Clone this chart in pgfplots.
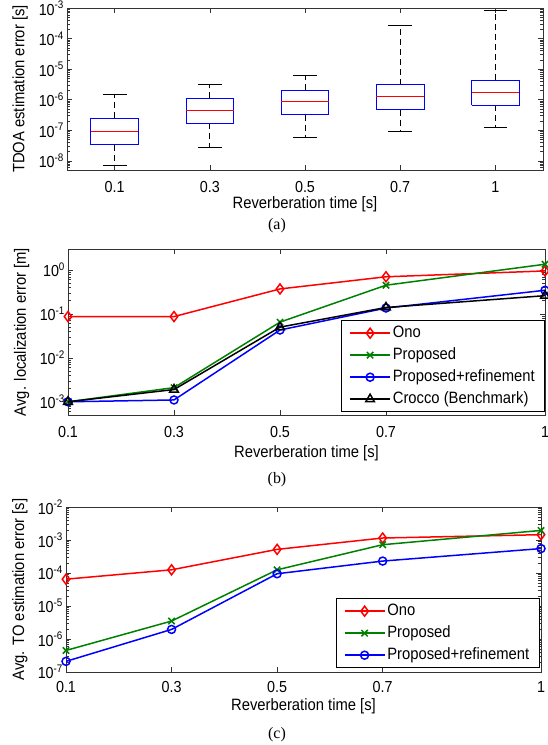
\documentclass[border=0pt]{standalone}
\usepackage{fontspec}
\setmainfont{Liberation Sans}[FakeStretch=0.9]
\newfontfamily\capfont{Liberation Serif}
\usepackage{pgfplots}
\pgfplotsset{compat=1.18}
\definecolor{mgreen}{rgb}{0,0.5,0}
\pgfplotsset{
  mycommon/.style={
    scale only axis,
    anchor=north west,
    tick align=inside,
    xtick pos=both, ytick pos=both,
    axis line style={black!80, line width=0.6bp},
    every tick/.style={black!80, line width=0.5bp},
    major tick length=5bp, minor tick length=3bp,
    tick label style={font=\fontsize{16}{18}\selectfont},
    label style={font=\fontsize{16.5}{19}\selectfont},
    yticklabel={10\raisebox{6.5bp}{\fontsize{11}{12}\selectfont\pgfmathprintnumber[assume math mode=true,fixed,precision=0]{\tick}}},
    xticklabel style={anchor=base},
    clip mode=individual,
    legend cell align=left,
    legend style={font=\fontsize{16.5}{19}\selectfont, draw=black, line width=0.6bp,
      inner xsep=8bp, inner ysep=1.5bp,
      nodes={text height=11.5bp, text depth=3bp, inner ysep=3.75bp}},
  },
  lineplot/.style={line width=1.5bp, mark options={solid, line width=1.5bp}},
}
\begin{document}
\begin{tikzpicture}[x=1bp,y=1bp]
\path[use as bounding box] (0,0) rectangle (548,-745);
\coordinate (PA) at (67,-8);
\coordinate (PB) at (68,-249);
\coordinate (PC) at (66,-507);
% ---------------- (a)
\begin{axis}[mycommon, ymode=log, log basis y=10, at={(PA)}, width=476bp, height=162bp,
  xmin=0.5, xmax=5.5, ymin=5e-9, ymax=1e-3,
  xtick={1,2,3,4,5}, xticklabels={0.1,0.3,0.5,0.7,1},
  every x tick label/.append style={yshift=-22.7bp},
  xlabel={Reverberation time [s]},
  xlabel style={at={(axis description cs:0.5,0)}, anchor=base, yshift=-38.5bp},
  ylabel={TDOA estimation error [s]},
  ylabel style={at={(axis description cs:-0.0987,0.5)}, anchor=center},
]
% box 1 (0.1)
\addplot[black, line width=0.8bp, dash pattern=on 6bp off 4bp] coordinates {(1,2.5e-7) (1,1.5e-6)};
\addplot[black, line width=0.8bp, dash pattern=on 6bp off 4bp] coordinates {(1,3.4e-8) (1,6.9e-9)};
\addplot[black, line width=0.8bp] coordinates {(0.875,1.5e-6) (1.125,1.5e-6)};
\addplot[black, line width=0.8bp] coordinates {(0.875,6.9e-9) (1.125,6.9e-9)};
\addplot[blue, line width=1bp] coordinates {(0.75,3.4e-8) (1.25,3.4e-8) (1.25,2.5e-7) (0.75,2.5e-7) (0.75,3.4e-8)};
\addplot[red, line width=0.8bp] coordinates {(0.75,8.9e-8) (1.25,8.9e-8)};
% box 2 (0.3)
\addplot[black, line width=0.8bp, dash pattern=on 6bp off 4bp] coordinates {(2,1.1e-6) (2,3.2e-6)};
\addplot[black, line width=0.8bp, dash pattern=on 6bp off 4bp] coordinates {(2,1.7e-7) (2,2.8e-8)};
\addplot[black, line width=0.8bp] coordinates {(1.875,3.2e-6) (2.125,3.2e-6)};
\addplot[black, line width=0.8bp] coordinates {(1.875,2.8e-8) (2.125,2.8e-8)};
\addplot[blue, line width=1bp] coordinates {(1.75,1.7e-7) (2.25,1.7e-7) (2.25,1.1e-6) (1.75,1.1e-6) (1.75,1.7e-7)};
\addplot[red, line width=0.8bp] coordinates {(1.75,4.5e-7) (2.25,4.5e-7)};
% box 3 (0.5)
\addplot[black, line width=0.8bp, dash pattern=on 6bp off 4bp] coordinates {(3,2.07e-6) (3,6.2e-6)};
\addplot[black, line width=0.8bp, dash pattern=on 6bp off 4bp] coordinates {(3,3.2e-7) (3,5.9e-8)};
\addplot[black, line width=0.8bp] coordinates {(2.875,6.2e-6) (3.125,6.2e-6)};
\addplot[black, line width=0.8bp] coordinates {(2.875,5.9e-8) (3.125,5.9e-8)};
\addplot[blue, line width=1bp] coordinates {(2.75,3.2e-7) (3.25,3.2e-7) (3.25,2.07e-6) (2.75,2.07e-6) (2.75,3.2e-7)};
\addplot[red, line width=0.8bp] coordinates {(2.75,9.1e-7) (3.25,9.1e-7)};
% box 4 (0.7)
\addplot[black, line width=0.8bp, dash pattern=on 6bp off 4bp] coordinates {(4,3.1e-6) (4,2.6e-4)};
\addplot[black, line width=0.8bp, dash pattern=on 6bp off 4bp] coordinates {(4,4.7e-7) (4,8.9e-8)};
\addplot[black, line width=0.8bp] coordinates {(3.875,2.6e-4) (4.125,2.6e-4)};
\addplot[black, line width=0.8bp] coordinates {(3.875,8.9e-8) (4.125,8.9e-8)};
\addplot[blue, line width=1bp] coordinates {(3.75,4.7e-7) (4.25,4.7e-7) (4.25,3.1e-6) (3.75,3.1e-6) (3.75,4.7e-7)};
\addplot[red, line width=0.8bp] coordinates {(3.75,1.32e-6) (4.25,1.32e-6)};
% box 5 (1)
\addplot[black, line width=0.8bp, dash pattern=on 6bp off 4bp] coordinates {(5,4.4e-6) (5,8.4e-4)};
\addplot[black, line width=0.8bp, dash pattern=on 6bp off 4bp] coordinates {(5,6.5e-7) (5,1.2e-7)};
\addplot[black, line width=0.8bp] coordinates {(4.875,8.4e-4) (5.125,8.4e-4)};
\addplot[black, line width=0.8bp] coordinates {(4.875,1.2e-7) (5.125,1.2e-7)};
\addplot[blue, line width=1bp] coordinates {(4.75,6.5e-7) (5.25,6.5e-7) (5.25,4.4e-6) (4.75,4.4e-6) (4.75,6.5e-7)};
\addplot[red, line width=0.8bp] coordinates {(4.75,1.77e-6) (5.25,1.77e-6)};
\end{axis}
\node[font=\capfont\fontsize{16}{18}\selectfont] at (277,-226) {(a)};
% ---------------- (b)
\begin{axis}[mycommon, ymode=log, log basis y=10, at={(PB)}, width=477bp, height=166bp,
  xmin=0.1, xmax=1, ymin=5e-4, ymax=3,
  xtick={0.1,0.3,0.5,0.7,1}, xticklabels={0.1,0.3,0.5,0.7,1},
  every x tick label/.append style={yshift=-22.7bp},
  xlabel={Reverberation time [s]},
  xlabel style={at={(axis description cs:0.5,0)}, anchor=base, yshift=-42.7bp},
  ylabel={Avg. localization error [m]},
  ylabel style={at={(axis description cs:-0.097,0.5)}, anchor=center},
  legend style={at={(axis description cs:1,0)}, anchor=south east, yshift=3bp},
  legend image code/.code={\draw[mark repeat=2, mark phase=2, #1] plot coordinates {(0bp,0bp) (20bp,0bp) (40bp,0bp)};},
]
\addplot[red, lineplot, mark=diamond, mark size=5bp] coordinates {(0.1,0.087) (0.3,0.087) (0.5,0.37) (0.7,0.70) (1,0.95)};
\addlegendentry{Ono}
\addplot[mgreen, lineplot, mark=x, mark size=4.5bp] coordinates {(0.1,1.0e-3) (0.3,2.1e-3) (0.5,0.065) (0.7,0.45) (1,1.35)};
\addlegendentry{Proposed}
\addplot[blue, lineplot, mark=o, mark size=4bp] coordinates {(0.1,1.0e-3) (0.3,1.1e-3) (0.5,0.043) (0.7,0.136) (1,0.345)};
\addlegendentry{Proposed+refinement}
\addplot[black, lineplot, mark=triangle, mark size=5bp] coordinates {(0.1,1.0e-3) (0.3,1.9e-3) (0.5,0.05) (0.7,0.14) (1,0.26)};
\addlegendentry{Crocco (Benchmark)}
\end{axis}
\node[font=\capfont\fontsize{16}{18}\selectfont] at (277,-480) {(b)};
% ---------------- (c)
\begin{axis}[mycommon, ymode=log, log basis y=10, at={(PC)}, width=475bp, height=165bp,
  xmin=0.1, xmax=1, ymin=1e-7, ymax=1e-2,
  xtick={0.1,0.3,0.5,0.7,1}, xticklabels={0.1,0.3,0.5,0.7,1},
  every x tick label/.append style={yshift=-20bp},
  xlabel={Reverberation time [s]},
  xlabel style={at={(axis description cs:0.5,0)}, anchor=base, yshift=-38.7bp},
  ylabel={Avg. TO estimation error [s]},
  ylabel style={at={(axis description cs:-0.097,0.5)}, anchor=center},
  legend style={at={(axis description cs:1,0)}, anchor=south east, xshift=-1.5bp, yshift=4bp},
  legend image code/.code={\draw[mark repeat=2, mark phase=2, #1] plot coordinates {(0bp,0bp) (20bp,0bp) (40bp,0bp)};},
]
\addplot[red, lineplot, mark=diamond, mark size=5bp] coordinates {(0.1,6.5e-5) (0.3,1.25e-4) (0.5,5.2e-4) (0.7,1.15e-3) (1,1.45e-3)};
\addlegendentry{Ono}
\addplot[mgreen, lineplot, mark=x, mark size=4.5bp] coordinates {(0.1,4.5e-7) (0.3,3.5e-6) (0.5,1.25e-4) (0.7,7.2e-4) (1,1.95e-3)};
\addlegendentry{Proposed}
\addplot[blue, lineplot, mark=o, mark size=4bp] coordinates {(0.1,2.1e-7) (0.3,1.95e-6) (0.5,9.5e-5) (0.7,2.3e-4) (1,5.5e-4)};
\addlegendentry{Proposed+refinement}
\end{axis}
\node[font=\capfont\fontsize{16}{18}\selectfont] at (277,-735) {(c)};
\end{tikzpicture}
\end{document}
